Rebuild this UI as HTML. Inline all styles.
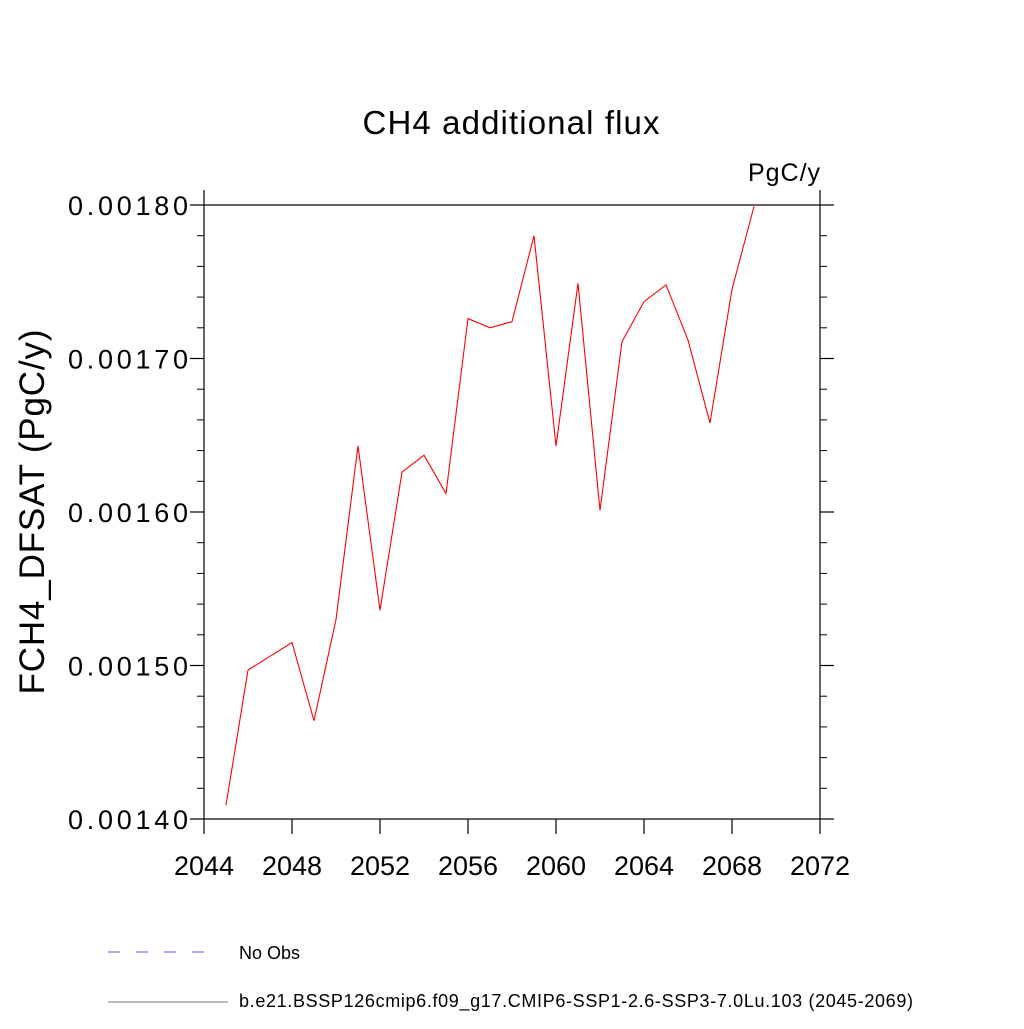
<!DOCTYPE html>
<html><head><meta charset="utf-8"><style>body{margin:0;background:#fff}svg{font-family:"Liberation Sans",sans-serif}</style></head>
<body>
<svg id="c" width="1024" height="1024" viewBox="0 0 1024 1024">
<text x="511" y="134" font-size="33" text-anchor="middle" textLength="297">CH4 additional flux</text>
<text x="820" y="181" font-size="25" text-anchor="end" textLength="72">PgC/y</text>
<text transform="translate(44,512) rotate(-90)" font-size="35" text-anchor="middle" textLength="365">FCH4_DFSAT  (PgC/y)</text>
<rect x="204" y="205" width="616" height="614" fill="none" stroke="#000" stroke-width="1.2"/>
<g id="ticks"></g>
<polyline id="line" fill="none" stroke="#f00" stroke-width="1.1"/>
<line x1="108" y1="952" x2="218" y2="952" stroke="#55f" stroke-dasharray="12,16"/>
<text x="239" y="959" font-size="18">No Obs</text>
<line x1="108" y1="1002" x2="228" y2="1002" stroke="#777"/>
<text x="239" y="1007" font-size="18" textLength="674">b.e21.BSSP126cmip6.f09_g17.CMIP6-SSP1-2.6-SSP3-7.0Lu.103 (2045-2069)</text>
</svg>
<script>
const years=[2045,2046,2047,2048,2049,2050,2051,2052,2053,2054,2055,2056,2057,2058,2059,2060,2061,2062,2063,2064,2065,2066,2067,2068,2069];
const values=[0.001409,0.001497,0.001506,0.001515,0.001464,0.00153,0.001643,0.001536,0.001626,0.001637,0.001612,0.001726,0.00172,0.001724,0.00178,0.001643,0.001749,0.001601,0.001711,0.001737,0.001748,0.001712,0.001658,0.001745,0.001799];
const xTicks=[2044,2048,2052,2056,2060,2064,2068,2072];
const yTicks=[0.0014,0.0015,0.0016,0.0017,0.0018];
const yLabels=["0.00140","0.00150","0.00160","0.00170","0.00180"];
const X0=204,X1=820,Y0=819,Y1=205;
const xs=v=>X0+(v-2044)/(2072-2044)*(X1-X0);
const ys=v=>Y0-(v-0.0014)/(0.0018-0.0014)*(Y0-Y1);
const ns="http://www.w3.org/2000/svg",g=document.getElementById('ticks');
function mk(t,a){const e=document.createElementNS(ns,t);for(const k in a)e.setAttribute(k,a[k]);g.appendChild(e);return e;}
[X0,X1].forEach(x=>{const c=mk('line',{x1:x,y1:Y1,x2:x,y2:Y1-15,stroke:'#000','stroke-width':1.2});

});
xTicks.forEach(t=>{const x=xs(t);
const a=mk('line',{x1:x,y1:Y0,x2:x,y2:Y0+15,stroke:'#000','stroke-width':1.2});


const l=mk('text',{x:x,y:875,'font-size':27,'text-anchor':'middle',textLength:60});l.textContent=t;

});
yTicks.forEach((t,i)=>{const y=ys(t);
const a=mk('line',{x1:X0-14,y1:y,x2:X0,y2:y,stroke:'#000','stroke-width':1.2});


const b=mk('line',{x1:X1,y1:y,x2:X1+14,y2:y,stroke:'#000','stroke-width':1.2});


const l=mk('text',{x:X0-16,y:y+10,'font-size':27,'text-anchor':'end',textLength:120});l.textContent=yLabels[i];


if(i<yTicks.length-1)for(let k=1;k<5;k++){const ym=ys(t+k*0.00002);
const m=mk('line',{x1:X0-7,y1:ym,x2:X0,y2:ym,stroke:'#000','stroke-width':1});


const m2=mk('line',{x1:X1,y1:ym,x2:X1+7,y2:ym,stroke:'#000','stroke-width':1});

}});
document.getElementById('line').setAttribute('points',years.map((y,i)=>xs(y)+','+ys(values[i])).join(' '));
</script>
</body></html>
